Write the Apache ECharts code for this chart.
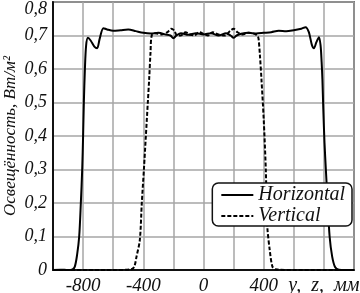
<!DOCTYPE html>
<html>
<head>
<meta charset="utf-8">
<script src="https://cdn.jsdelivr.net/npm/echarts@6/dist/echarts.min.js"></script>
<style>
  html, body { margin: 0; padding: 0; background: #fff; }
  #chart { width: 360px; height: 293px; }
</style>
</head>
<body>
<div id="chart"></div>
<script>
// y, z positions (mm) and irradiance values
const horizontalX = [-1000, -950, -900, -870, -855, -840, -826, -815, -806, -800, -795, -788, -780, -768,
  -750, -725, -707, -690, -665, -640, -600, -550, -500, -450, -400, -350, -300, -250, -220, -200,
  -180, -150, -100, -50, 0, 50, 100, 150, 180, 200, 220, 250, 300, 350, 400, 450, 500, 550, 600,
  650, 678, 700, 720, 734, 750, 767, 778, 785, 790, 796, 804, 813, 825, 838, 855, 875, 900, 1000];
const horizontalY = [0, 0.001, 0, 0.002, 0.01, 0.045, 0.1, 0.2, 0.3, 0.4, 0.5, 0.6, 0.67, 0.693,
  0.685, 0.667, 0.662, 0.69, 0.722, 0.718, 0.714, 0.716, 0.718, 0.713, 0.708, 0.706, 0.708, 0.703, 0.7, 0.692,
  0.7, 0.707, 0.702, 0.707, 0.703, 0.707, 0.7, 0.707, 0.7, 0.693, 0.7, 0.705, 0.708, 0.706, 0.708, 0.71, 0.714, 0.713, 0.716,
  0.72, 0.725, 0.71, 0.672, 0.662, 0.68, 0.695, 0.67, 0.62, 0.57, 0.48, 0.38, 0.3, 0.2, 0.1, 0.04, 0.008, 0.001, 0];

const verticalX = [-1000, -800, -600, -480, -460, -445, -423, -410, -396, -383, -370, -361, -352, -344,
  -320, -280, -240, -215, -195, -175, -150, -120, -90, -60, -30, 0, 30, 60, 100, 140, 180, 200, 225,
  260, 300, 340, 360, 366, 375, 385, 400, 414, 424, 440, 458, 480, 600, 800, 1000];
const verticalY = [0, 0, 0, 0.002, 0.01, 0.04, 0.09, 0.2, 0.3, 0.4, 0.5, 0.57, 0.65, 0.7,
  0.707, 0.703, 0.71, 0.72, 0.715, 0.7, 0.7, 0.71, 0.703, 0.7, 0.71, 0.705, 0.7, 0.71, 0.703, 0.7, 0.715, 0.72, 0.71,
  0.703, 0.708, 0.705, 0.698, 0.69, 0.64, 0.57, 0.45, 0.3, 0.13, 0.06, 0.01, 0.002, 0, 0, 0];

const seriesNames = ['Horizontal', 'Vertical'];
const xTickLabels = [-800, -400, 0, 400];
const xAxisName = 'y,\u2002z,\u2002мм';
const yAxisName = 'Освещённость, Вт/м²';

const pairs = (xs, ys) => xs.map((x, i) => [x, ys[i]]);

const serif = '"Liberation Serif", "DejaVu Serif", serif';
const ink = '#111';

const myChart = echarts.init(document.getElementById('chart'), null, { renderer: 'canvas' });

let option = {
  backgroundColor: '#fff',
  animation: false,
  grid: {
    left: 53, right: 6, top: 2, bottom: 23,
    outerBoundsMode: 'none',
    containLabel: false,
    show: true,
    borderColor: ink,
    borderWidth: 1.5
  },
  legend: {
    data: seriesNames,
    orient: 'vertical',
    right: 8,
    top: 183,
    itemWidth: 32,
    itemHeight: 14,
    itemGap: 1,
    padding: [2, 7, 0, 8],
    borderColor: ink,
    borderWidth: 1.5,
    borderRadius: 6,
    backgroundColor: '#fff',
    itemStyle: { color: 'rgba(0,0,0,0)', borderWidth: 0, opacity: 0 },
    textStyle: { fontFamily: serif, fontStyle: 'italic', fontSize: 20, lineHeight: 16, color: ink }
  },
  xAxis: {
    type: 'value',
    min: -1000,
    max: 1000,
    interval: 200,
    axisLine: { show: true, lineStyle: { color: ink, width: 2 } },
    axisTick: { show: false },
    splitLine: { show: true, lineStyle: { color: '#a6a6a6', width: 1.5 } },
    axisLabel: {
      margin: 6,
      fontFamily: serif, fontStyle: 'italic', fontSize: 19, color: ink,
      formatter: (v) => {
        if (v === 800) return '{name|' + xAxisName + '}';
        return xTickLabels.indexOf(v) >= 0 ? String(v) : '';
      },
      rich: {
        name: { fontFamily: serif, fontStyle: 'italic', fontSize: 20, color: ink }
      }
    }
  },
  yAxis: {
    type: 'value',
    min: 0,
    max: 0.8,
    interval: 0.1,
    name: yAxisName,
    nameLocation: 'middle',
    nameGap: 34,
    nameMoveOverlap: false,
    nameTextStyle: { fontFamily: serif, fontStyle: 'italic', fontSize: 17, color: ink },
    axisLine: { show: true, onZero: false, lineStyle: { color: ink, width: 2 } },
    axisTick: { show: false },
    splitLine: { show: true, lineStyle: { color: '#a6a6a6', width: 1.5 } },
    axisLabel: {
      margin: 6,
      fontFamily: serif, fontStyle: 'italic', fontSize: 18, color: ink,
      formatter: (v) => {
        const s = v === 0 ? '0' : v.toFixed(1).replace('.', ',');
        return v >= 0.8 ? '{top|' + s + '}' : s;
      },
      rich: {
        top: { fontFamily: serif, fontStyle: 'italic', fontSize: 18, color: ink, padding: [14, 0, 0, 0] }
      }
    }
  },
  series: [
    {
      name: seriesNames[0],
      type: 'line',
      symbol: 'none',
      smooth: 0.3,
      data: pairs(horizontalX, horizontalY),
      lineStyle: { color: '#000', width: 2, type: 'solid' },
      itemStyle: { color: '#000' }
    },
    {
      name: seriesNames[1],
      type: 'line',
      symbol: 'none',
      smooth: 0.3,
      data: pairs(verticalX, verticalY),
      lineStyle: { color: '#000', width: 2, type: [4, 2] },
      itemStyle: { color: '#000' }
    }
  ]
};

myChart.setOption(option);
</script>
</body>
</html>
